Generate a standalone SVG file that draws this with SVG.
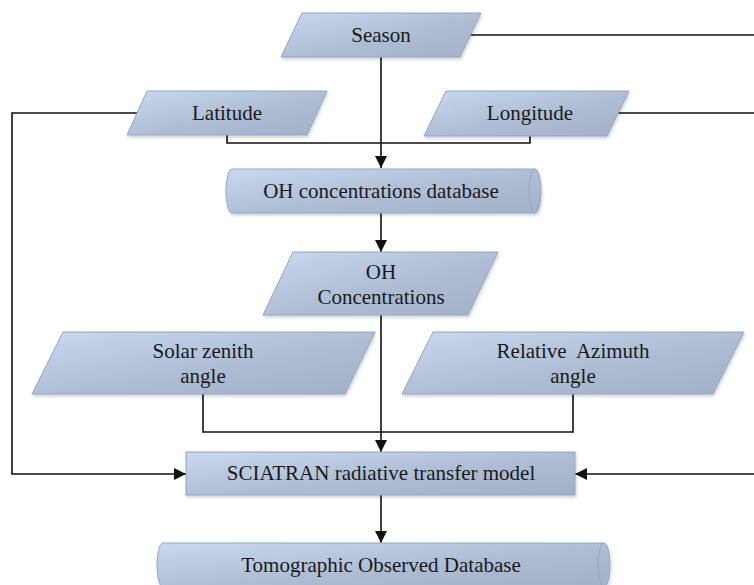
<svg xmlns="http://www.w3.org/2000/svg" width="754" height="585" viewBox="0 0 754 585">
  <defs>
    <linearGradient id="fillBlue" x1="0" y1="0" x2="1" y2="1">
      <stop offset="0" stop-color="#c8d9f0"/>
      <stop offset="0.55" stop-color="#aebdd3"/>
      <stop offset="1" stop-color="#a2b1c7"/>
    </linearGradient>
    <filter id="softShadow" x="-10%" y="-20%" width="120%" height="150%">
      <feDropShadow dx="1" dy="2" stdDeviation="1.5" flood-color="#000" flood-opacity="0.18"/>
    </filter>
    <marker id="arrow" viewBox="0 0 12 12" refX="12" refY="6" markerWidth="12" markerHeight="12" markerUnits="userSpaceOnUse" orient="auto">
      <path d="M0,0 L12,6 L0,12 Z" fill="#111"/>
    </marker>
    <style>
      .shape { fill: url(#fillBlue); stroke: #93a6c0; stroke-width: 1; filter: url(#softShadow); }
      .rim { fill: none; stroke: #93a6c0; stroke-width: 1; }
      .label { font-family: "Liberation Serif", "Times New Roman", serif; font-size: 21px; fill: #1a1a1a; text-anchor: middle; white-space: pre; }
      .wire { fill: none; stroke: #111; stroke-width: 1.6; }
      .wire.to { marker-end: url(#arrow); }
    </style>
  </defs>

  <rect width="754" height="585" fill="#ffffff"/>

  <!-- connectors -->
  <g id="connectors">
    <path class="wire" d="M470,35 H754"/>
    <path class="wire to" d="M381,57 V168"/>
    <path class="wire" d="M227,135 V143 H381"/>
    <path class="wire" d="M530,136 V143 H381"/>
    <path class="wire" d="M618,113 H754"/>
    <path class="wire to" d="M137,113 H12 V474 H186"/>
    <path class="wire to" d="M381,213 V252"/>
    <path class="wire to" d="M381,315 V452"/>
    <path class="wire" d="M203,394 V432 H381"/>
    <path class="wire" d="M573,394 V432 H381"/>
    <path class="wire to" d="M754,474 H575"/>
    <path class="wire to" d="M381,495 V543"/>
  </g>

  <g id="season">
    <polygon class="shape" points="302,13 481,13 460,57 281,57"/>
    <text class="label" x="381" y="42">Season</text>
  </g>

  <g id="latitude">
    <polygon class="shape" points="147,91 327,91 307,135 127,135"/>
    <text class="label" x="227" y="120">Latitude</text>
  </g>

  <g id="longitude">
    <polygon class="shape" points="446,91 629,91 607,136 424,136"/>
    <text class="label" x="530" y="120">Longitude</text>
  </g>

  <g id="oh-database">
    <path class="shape" d="M232,169 H535 A6,22 0 0 1 535,213 H232 A6,22 0 0 1 232,169 Z"/>
    <path class="rim" d="M535,169 A6,22 0 0 0 535,213"/>
    <text class="label" x="381" y="198">OH concentrations database</text>
  </g>

  <g id="oh-concentrations">
    <polygon class="shape" points="293,252 498,252 468,315 263,315"/>
    <text class="label" x="381" y="279">OH</text>
    <text class="label" x="381" y="304">Concentrations</text>
  </g>

  <g id="solar-zenith">
    <polygon class="shape" points="63,332 375,332 345,394 32,394"/>
    <text class="label" x="203" y="358">Solar zenith</text>
    <text class="label" x="203" y="383">angle</text>
  </g>

  <g id="relative-azimuth">
    <polygon class="shape" points="433,332 744,332 713,394 402,394"/>
    <text class="label" x="573" y="358" xml:space="preserve">Relative  Azimuth</text>
    <text class="label" x="573" y="383">angle</text>
  </g>

  <g id="sciatran">
    <rect class="shape" x="186" y="452" width="389" height="43"/>
    <text class="label" x="381" y="480">SCIATRAN radiative transfer model</text>
  </g>

  <g id="tomographic-database">
    <path class="shape" d="M163,543 H604 A6,22 0 0 1 604,587 H163 A6,22 0 0 1 163,543 Z"/>
    <path class="rim" d="M604,543 A6,22 0 0 0 604,587"/>
    <text class="label" x="381" y="572">Tomographic Observed Database</text>
  </g>
</svg>
